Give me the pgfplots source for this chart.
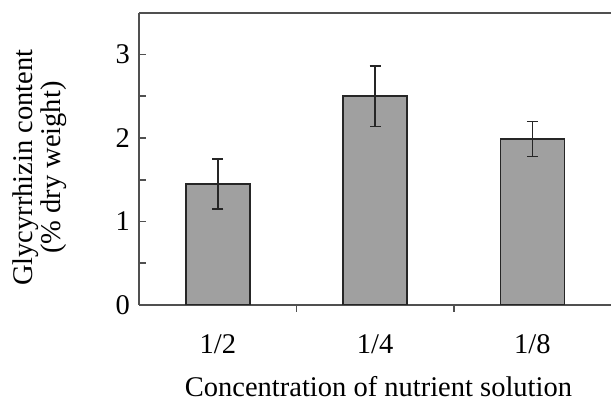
\documentclass[border=0pt]{standalone}
\usepackage{pgfplots}
\pgfplotsset{compat=1.18}
\usepackage{fontspec}
\setmainfont{Liberation Serif}
\definecolor{barfill}{HTML}{A0A0A0}
\definecolor{axgray}{HTML}{505050}
\begin{document}
\begin{tikzpicture}[font=\fontsize{28.5}{28}\selectfont]
\begin{axis}[
  name=ax,
  scale only axis,
  width=471.7pt, height=292.3pt,
  xmin=-0.5, xmax=2.5,
  ymin=0, ymax=3.5,
  axis y line*=left,
  axis x line*=box,
  axis line style={axgray, line width=2pt},
  xtick={0,1,2},
  xticklabels={1/2,1/4,1/8},
  minor xtick={0.5,1.5},
  ytick={0,1,2,3},
  minor ytick={0.5,1.5,2.5},
  tick pos=left,
  tick align=inside,
  major tick length=7pt,
  minor tick length=7pt,
  every major x tick/.append style={draw=none},
  tick style={axgray, line width=1.6pt},
  /pgf/number format/assume math mode=true,
  yticklabel style={xshift=-6pt},
  xticklabel style={anchor=base, yshift=-42pt},
  xlabel={Concentration of nutrient solution},
  xlabel style={at={(axis description cs:0.507,-0.312)}, anchor=base},
  ylabel={Glycyrrhizin content\\(\% dry weight)},
  ylabel style={at={(axis description cs:-0.2105,0.47)}, anchor=center, align=center},
  ybar, bar width=64pt,
]
\addplot[fill=barfill, draw=black!85, line width=1.5pt,
  error bars/.cd, y dir=both, y explicit,
  error bar style={black!85, line width=1.5pt},
  error mark options={rotate=90, mark size=5.5pt, line width=1.5pt, black!85}]
  coordinates {(0,1.45) +- (0,0.30) (1,2.50) +- (0,0.36) (2,1.99) +- (0,0.21)};
\end{axis}
\pgfresetboundingbox
\useasboundingbox ([xshift=-139.3pt,yshift=-97pt]ax.south west) rectangle ([yshift=12.7pt]ax.north east);
\end{tikzpicture}
\end{document}
